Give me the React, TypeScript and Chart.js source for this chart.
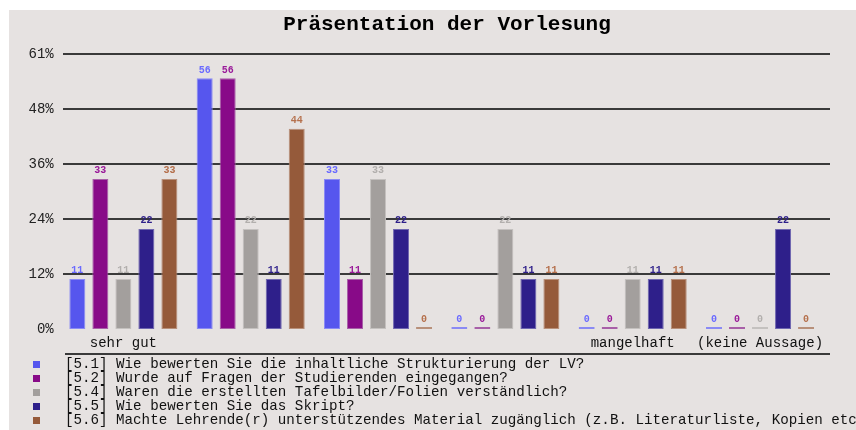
import React, { useEffect, useRef } from "react";
import { Chart, registerables } from "chart.js";

Chart.register(...registerables);

const title = "Präsentation der Vorlesung";
const categories = ["sehr gut", "", "", "", "mangelhaft", "(keine Aussage)"];
const seriesLabels = [
  "[5.1] Wie bewerten Sie die inhaltliche Strukturierung der LV?",
  "[5.2] Wurde auf Fragen der Studierenden eingegangen?",
  "[5.4] Waren die erstellten Tafelbilder/Folien verständlich?",
  "[5.5] Wie bewerten Sie das Skript?",
  "[5.6] Machte Lehrende(r) unterstützendes Material zugänglich (z.B. Literaturliste, Kopien etc",
];
const s51 = [11.1, 55.6, 33.3, 0, 0, 0];
const s52 = [33.3, 55.6, 11.1, 0, 0, 0];
const s54 = [11.1, 22.2, 33.3, 22.2, 11.1, 0];
const s55 = [22.2, 11.1, 22.2, 11.1, 11.1, 22.2];
const s56 = [33.3, 44.4, 0, 11.1, 11.1, 0];
const seriesValues = [s51, s52, s54, s55, s56];
const yTickValues = [0, 12.2, 24.4, 36.6, 48.8, 61];
const yTickLabels = ["0%", "12%", "24%", "36%", "48%", "61%"];

const barColors = ["#5656ee", "#880a88", "#a39f9d", "#2e1f8a", "#955a3a"];
const borderColors = ["#8a8af4", "#a860a8", "#c4c1bf", "#6e66b0", "#b8907a"];
const labelColors = ["#6a6aff", "#9a1a9a", "#b2afad", "#2e1f8a", "#b5704c"];

const MONO = "'Liberation Mono', 'DejaVu Sans Mono', monospace";

const decorPlugin = {
  id: "decor",
  beforeDraw(chart: any) {
    const ctx = chart.ctx;
    ctx.save();
    ctx.fillStyle = "#ffffff";
    ctx.fillRect(0, 0, chart.width, chart.height);
    ctx.fillStyle = "#e6e2e1";
    ctx.fillRect(9, 10, chart.width - 9, chart.height - 10);
    ctx.fillStyle = "#000";
    ctx.font = `bold 21px ${MONO}`;
    ctx.textAlign = "center";
    ctx.textBaseline = "middle";
    ctx.fillText(title, 447, 25);
    ctx.restore();
  },
  beforeDatasetsDraw(chart: any) {
    const ctx = chart.ctx;
    const y = chart.scales.y;
    ctx.save();
    ctx.strokeStyle = "#3a3a3a";
    ctx.lineWidth = 2;
    y.ticks.forEach((t: any) => {
      if (t.value === 0) return;
      const py = Math.round(y.getPixelForValue(t.value));
      ctx.beginPath();
      ctx.moveTo(63, py);
      ctx.lineTo(830, py);
      ctx.stroke();
    });
    ctx.beginPath();
    ctx.moveTo(65, 354);
    ctx.lineTo(830, 354);
    ctx.stroke();
    ctx.restore();
  },
  afterDatasetsDraw(chart: any) {
    const ctx = chart.ctx;
    ctx.save();
    ctx.font = `bold 10px ${MONO}`;
    ctx.textAlign = "center";
    ctx.textBaseline = "middle";
    chart.data.datasets.forEach((ds: any, di: number) => {
      const meta = chart.getDatasetMeta(di);
      meta.data.forEach((el: any, i: number) => {
        ctx.fillStyle = labelColors[di];
        ctx.fillText(String(Math.round(ds.data[i])), el.x, el.y - 8);
      });
    });
    ctx.font = `14.2px ${MONO}`;
    ctx.textAlign = "left";
    chart.data.datasets.forEach((ds: any, di: number) => {
      const cy = 364 + di * 14;
      ctx.fillStyle = barColors[di];
      ctx.fillRect(33, cy - 3, 7, 7);
      ctx.fillStyle = "#111";
      ctx.fillText(ds.label, 65, cy);
    });
    ctx.restore();
  },
};

export default function App() {
  const ref = useRef<HTMLCanvasElement | null>(null);
  useEffect(() => {
    if (!ref.current) return;
    const chart = new Chart(ref.current, {
      type: "bar",
      data: {
        labels: categories,
        datasets: seriesValues.map((vals, i) => ({
          label: seriesLabels[i],
          data: vals,
          backgroundColor: barColors[i],
          borderColor: borderColors[i],
          borderWidth: 1,
          borderSkipped: false,
          minBarLength: 2,
          barPercentage: 0.696,
          categoryPercentage: 0.9036,
        })),
      },
      options: {
        animation: false,
        responsive: false,
        devicePixelRatio: 1,
        layout: { padding: { top: 54, left: 0, right: 32.3, bottom: 76 } },
        plugins: {
          legend: { display: false },
          title: { display: false },
          tooltip: { enabled: false },
        },
        scales: {
          x: {
            grid: { display: false, drawTicks: false },
            border: { display: false },
            ticks: {
              autoSkip: false,
              maxRotation: 0,
              padding: 6,
              color: "#111",
              font: { family: MONO, size: 14 },
            },
            afterFit: (s: any) => {
              s.height = 25;
            },
          },
          y: {
            min: 0,
            max: 61,
            grid: { display: false, drawTicks: false },
            border: { display: false },
            afterBuildTicks: (s: any) => {
              s.ticks = yTickValues.map((v) => ({ value: v }));
            },
            ticks: {
              padding: 6,
              color: "#222",
              font: { family: MONO, size: 14 },
              callback: (_v: any, idx: number) => yTickLabels[idx],
            },
            afterFit: (s: any) => {
              s.width = 59.7;
            },
          },
        },
      },
      plugins: [decorPlugin],
    });
    return () => chart.destroy();
  }, []);
  return (
    <canvas
      ref={ref}
      width={856}
      height={430}
      style={{ position: "fixed", left: 0, top: 0, width: 856, height: 430 }}
    />
  );
}
